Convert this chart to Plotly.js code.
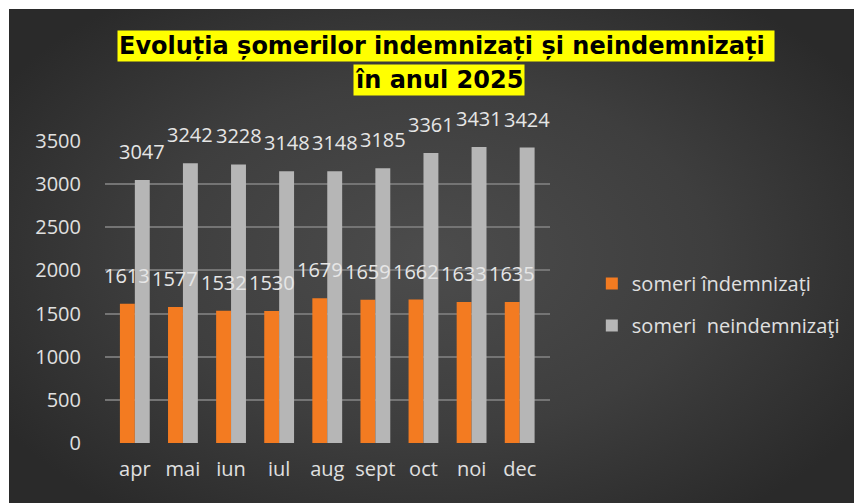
<!DOCTYPE html>
<html>
<head>
<meta charset="utf-8">
<script src="https://cdn.plot.ly/plotly-3.0.1.min.js"></script>
<style>
  html, body { margin:0; padding:0; background:#ffffff; width:854px; height:503px; overflow:hidden; }
  #bg { position:absolute; left:9px; top:9px; width:845px; height:494px;
        background: radial-gradient(ellipse 60% 65% at 50% 50%, #4c4c4c 0%, #3e3e3e 55%, #2a2a2a 100%); }
  #chart { position:absolute; left:0; top:0; width:854px; height:503px; }
</style>
</head>
<body>
<div id="bg"></div>
<div id="chart"></div>
<script>
const months = ["apr", "mai", "iun", "iul", "aug", "sept", "oct", "noi", "dec"];
const indemnizati = [1613, 1577, 1532, 1530, 1679, 1659, 1662, 1633, 1635];
const neindemnizati = [3047, 3242, 3228, 3148, 3148, 3185, 3361, 3431, 3424];
const seriesNames = ["someri îndemnizați", "someri  neindemnizaţi"];
const titleLines = ["Evoluția șomerilor indemnizați și neindemnizați ", "în anul 2025"];
const yTicks = [0, 500, 1000, 1500, 2000, 2500, 3000, 3500];

const baseFont = "Open Sans, sans-serif";
const labelFont = {family: baseFont, size: 20, color: "#e6e6e6"};

const traces = [
  {
    type: "bar", x: months, y: indemnizati, name: seriesNames[0],
    legendgroup: "a", marker: {color: "#f37b21"}, hoverinfo: "x+y"
  },
  {
    type: "bar", x: months, y: neindemnizati, name: seriesNames[1],
    legendgroup: "b", marker: {color: "#b6b6b6"}, hoverinfo: "x+y"
  }
];

// data labels as annotations, placed through the axes (drawn above all bars)
const labelAnnotations = [];
[[indemnizati, -7.5], [neindemnizati, 7.5]].forEach(([vals, dx]) => {
  vals.forEach((v, i) => {
    labelAnnotations.push({
      xref: "x", yref: "y", x: months[i], y: v,
      text: String(v), showarrow: false,
      xanchor: "center", yanchor: "bottom",
      xshift: dx, yshift: 13, font: labelFont
    });
  });
});

const titleFont = {family: "DejaVu Sans, sans-serif", size: 24, color: "#000000"};

const layout = {
  width: 854, height: 503,
  paper_bgcolor: "rgba(0,0,0,0)", plot_bgcolor: "rgba(0,0,0,0)",
  margin: {l: 105, r: 304, t: 141, b: 60},
  barmode: "group", bargap: 0.38, bargroupgap: 0,
  showlegend: true,
  legend: {
    xref: "container", yref: "container", x: 0.693, y: 0.475,
    xanchor: "left", yanchor: "top",
    font: {family: baseFont, size: 20, color: "#e0e0e0"},
    bgcolor: "rgba(0,0,0,0)", tracegroupgap: 13, itemwidth: 30
  },
  xaxis: {
    range: [-0.62, 8.63], showgrid: false, zeroline: false, showline: false,
    ticks: "", tickfont: {family: baseFont, size: 20, color: "#e0e0e0"},
    ticklabelstandoff: 12, fixedrange: true
  },
  yaxis: {
    range: [0, 3500], tickvals: yTicks, ticktext: yTicks.map(String),
    showgrid: true, gridcolor: "#747474", gridwidth: 2, zeroline: false, showline: false,
    ticks: "", tickfont: {family: baseFont, size: 20, color: "#e0e0e0"},
    ticklabelstandoff: 23, fixedrange: true
  },
  annotations: labelAnnotations.concat([
    {
      xref: "paper", yref: "paper", x: 0.766, y: 1.313,
      xanchor: "center", yanchor: "middle", showarrow: false,
      text: "<b>" + titleLines[0] + "</b>", font: titleFont,
      bgcolor: "#ffff00", borderpad: 1
    },
    {
      xref: "paper", yref: "paper", x: 0.7506, y: 1.203,
      xanchor: "center", yanchor: "middle", showarrow: false,
      text: "<b>" + titleLines[1] + "</b>", font: titleFont,
      bgcolor: "#ffff00", borderpad: 1
    }
  ])
};

Plotly.newPlot("chart", traces, layout, {displayModeBar: false, staticPlot: true});
</script>
</body>
</html>
